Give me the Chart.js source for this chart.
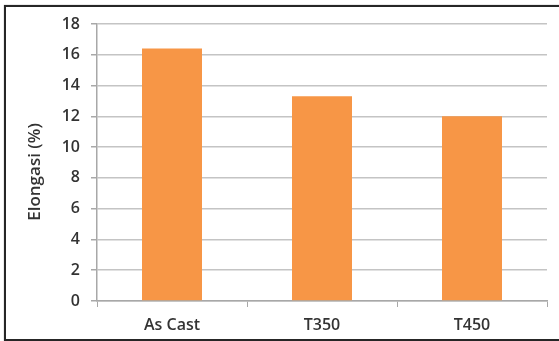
<!DOCTYPE html>
<html>
<head>
<meta charset="utf-8">
<script src="https://cdn.jsdelivr.net/npm/chart.js@4.4.1/dist/chart.umd.min.js"></script>
<style>
  html, body { margin: 0; padding: 0; background: #fff; overflow: hidden; }
  #wrap { position: relative; width: 559px; height: 341px; }
  #frame { position: absolute; left: 4px; top: 5px; width: 600px; height: 332px;
           border: 2px solid #262626; box-shadow: 0 0 1px #888; }
  canvas { position: absolute; left: 0; top: 0; }
</style>
</head>
<body>
<div id="wrap">
  <div id="frame"></div>
  <canvas id="chart" width="559" height="341"></canvas>
</div>
<script>
// Elongation per treatment condition
const categories = ['As Cast', 'T350', 'T450'];
const elongation = [16.4, 13.3, 12.0];
const yTicks = [0, 2, 4, 6, 8, 10, 12, 14, 16, 18];
const yTitle = 'Elongasi (%)';

const textColor = '#333333';
const gridColor = '#c4c4c4';
const axisColor = '#a8a8a8';
const fontFamily = '"Open Sans", sans-serif';

// rotated y-axis caption
const yCaption = {
  id: 'yCaption',
  afterDraw(chart) {
    const ctx = chart.ctx;
    ctx.save();
    ctx.translate(35, 172);
    ctx.rotate(-Math.PI / 2);
    ctx.font = '600 17px ' + fontFamily;
    ctx.fillStyle = textColor;
    ctx.textAlign = 'center';
    ctx.textBaseline = 'middle';
    ctx.fillText(yTitle, 0, 0);
    ctx.restore();
  }
};

new Chart(document.getElementById('chart'), {
  type: 'bar',
  data: {
    labels: categories,
    datasets: [{
      data: elongation,
      backgroundColor: '#F79646',
      borderWidth: 0,
      barPercentage: 0.8,
      categoryPercentage: 0.5
    }]
  },
  options: {
    responsive: false,
    animation: false,
    layout: { padding: { top: 24, right: 12, left: 0, bottom: 0 } },
    plugins: { legend: { display: false }, tooltip: { enabled: false } },
    scales: {
      x: {
        afterFit(scale) { scale.height = 40; },
        grid: {
          offset: true,
          drawOnChartArea: false,
          drawTicks: true,
          tickLength: 6,
          color: axisColor,
          lineWidth: 1
        },
        border: { color: axisColor, width: 1.5 },
        ticks: {
          color: textColor,
          padding: 9,
          font: { family: fontFamily, size: 16, weight: '600' }
        }
      },
      y: {
        min: 0,
        max: 18,
        afterFit(scale) { scale.width = 97; },
        afterBuildTicks(scale) { scale.ticks = yTicks.map(v => ({ value: v })); },
        grid: {
          color: gridColor,
          lineWidth: 1.5,
          tickLength: 6,
          tickColor: axisColor
        },
        border: { color: axisColor, width: 1.5 },
        ticks: {
          color: textColor,
          padding: 11,
          font: { family: fontFamily, size: 16, weight: '600' }
        }
      }
    }
  },
  plugins: [yCaption]
});
</script>
</body>
</html>
